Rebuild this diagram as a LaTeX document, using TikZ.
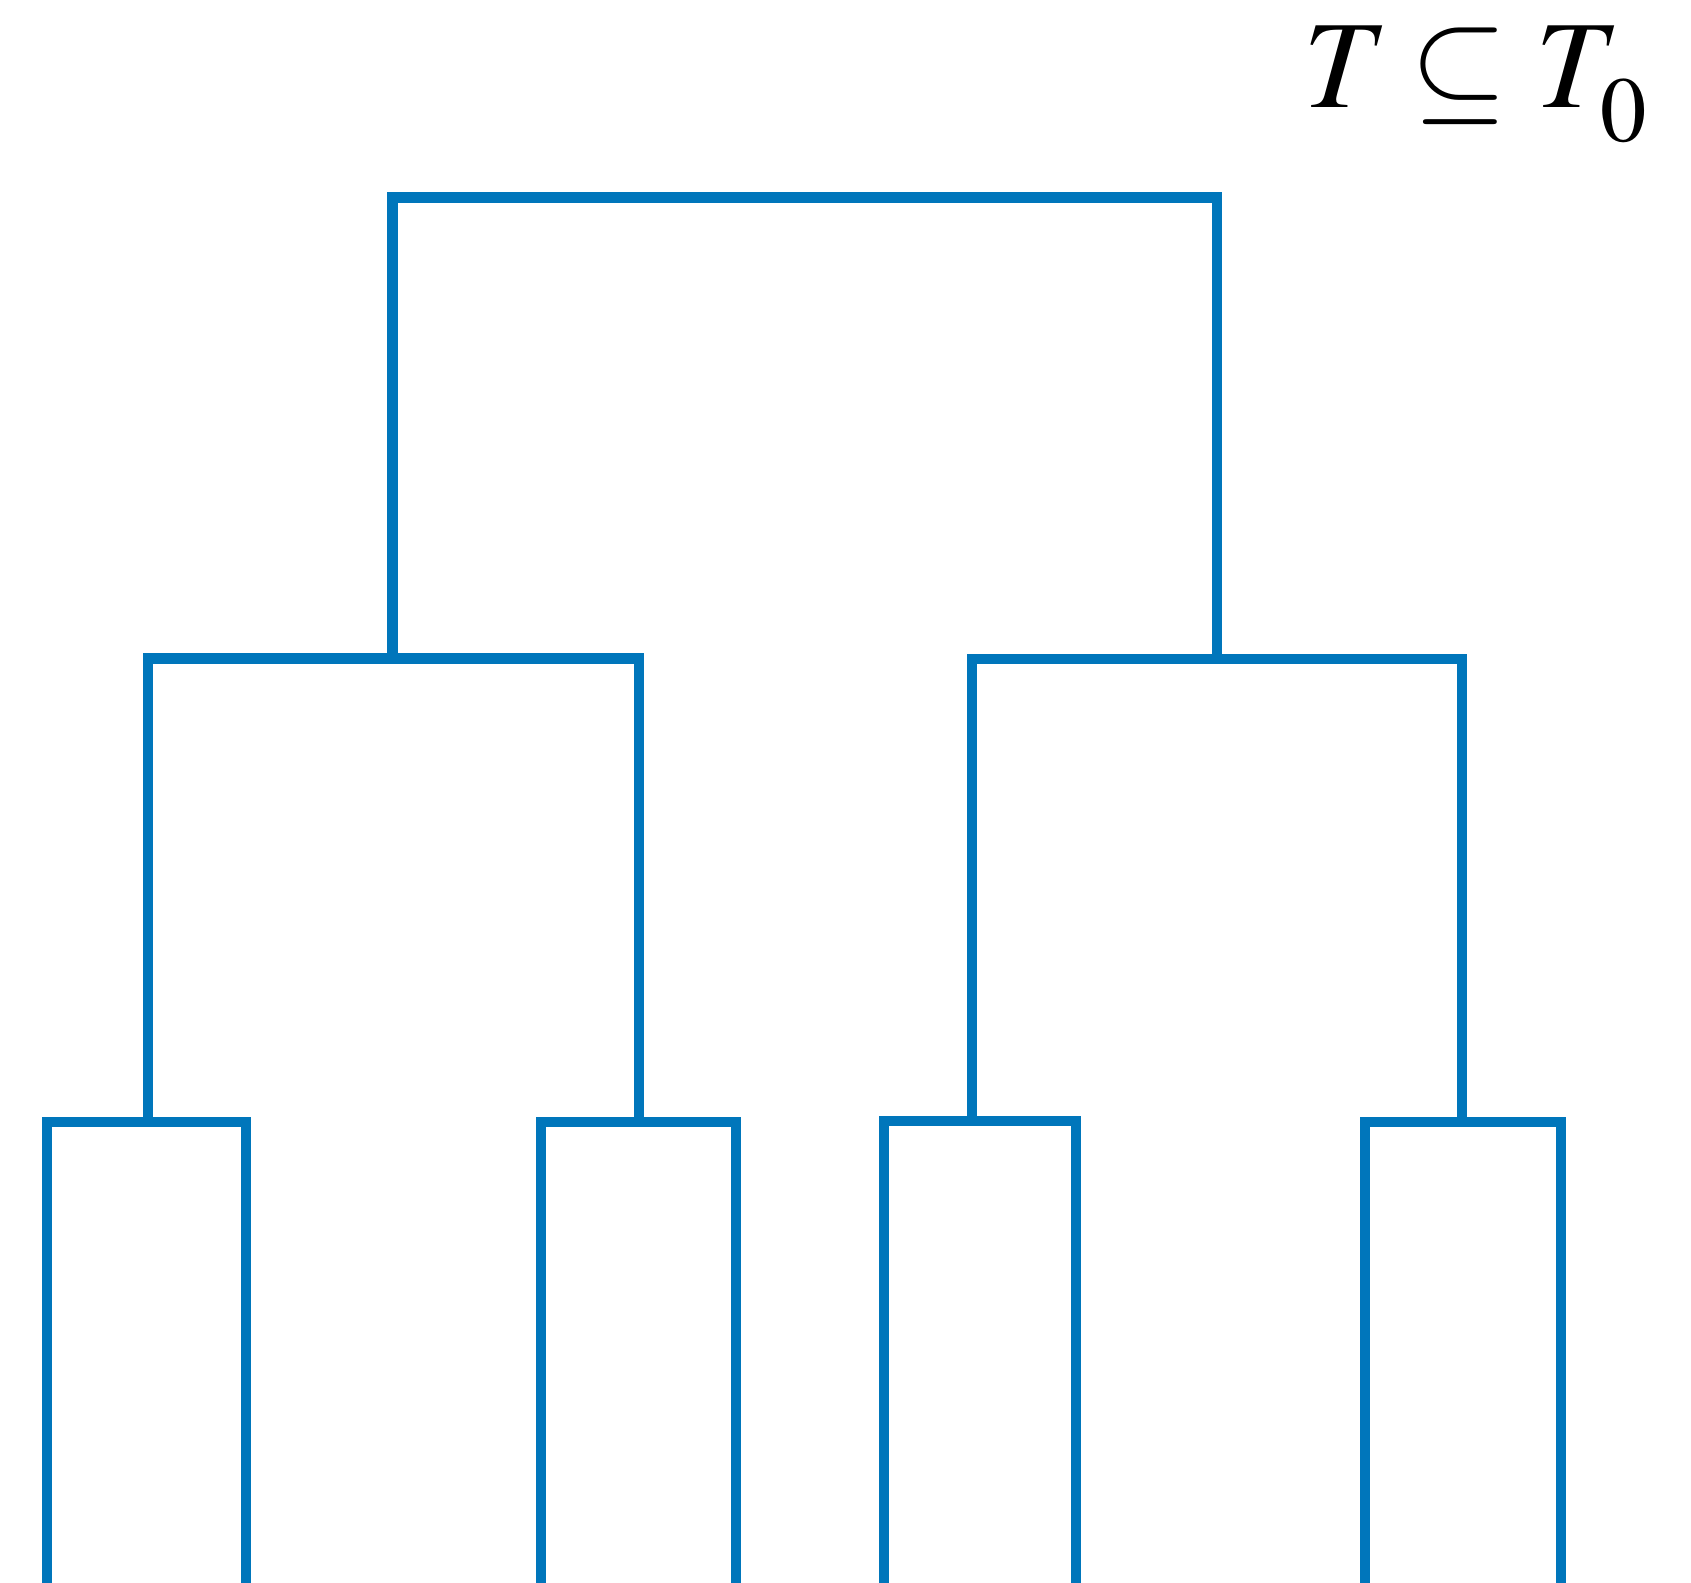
\documentclass[tikz,border=0pt]{standalone}
\usepackage{mathptmx}
\usepackage{tikz}
\usetikzlibrary{positioning,calc}
\definecolor{treeblue}{RGB}{0,118,187}

\begin{document}
\begin{tikzpicture}[
    branch/.style={draw=treeblue, line width=0.103cm, line join=miter},
    lbl/.style={font=\fontsize{35.6}{40}\selectfont, inner sep=0pt, anchor=base west}
]
    \useasboundingbox (0,0) rectangle (16.91,-15.83);

    % splits
    \coordinate (root) at (8.05,-1.975);
    \coordinate (n1) at (3.925,-6.585);
    \coordinate (n2) at (12.17,-6.59);
    \coordinate (n11) at (1.48,-11.22);
    \coordinate (n12) at (6.39,-11.22);
    \coordinate (n21) at (9.72,-11.21);
    \coordinate (n22) at (14.62,-11.22);

    % leaves
    \coordinate (l1) at (0.47,-15.83);
    \coordinate (l2) at (2.46,-15.83);
    \coordinate (l3) at (5.41,-15.83);
    \coordinate (l4) at (7.36,-15.83);
    \coordinate (l5) at (8.84,-15.83);
    \coordinate (l6) at (10.76,-15.83);
    \coordinate (l7) at (13.65,-15.83);
    \coordinate (l8) at (15.61,-15.83);

    \draw[branch] (n1) |- (root) -| (n2);
    \draw[branch] (n11) |- (n1) -| (n12);
    \draw[branch] (n21) |- (n2) -| (n22);
    \draw[branch] (l1) |- (n11) -| (l2);
    \draw[branch] (l3) |- (n12) -| (l4);
    \draw[branch] (l5) |- (n21) -| (l6);
    \draw[branch] (l7) |- (n22) -| (l8);

    \node[lbl] (subset) at (13.03,-1.08)
        {$T\mkern-1mu\subseteq T_{\mkern1mu\raisebox{-0.15cm}{$\scriptstyle 0$}}$};
\end{tikzpicture}
\end{document}
